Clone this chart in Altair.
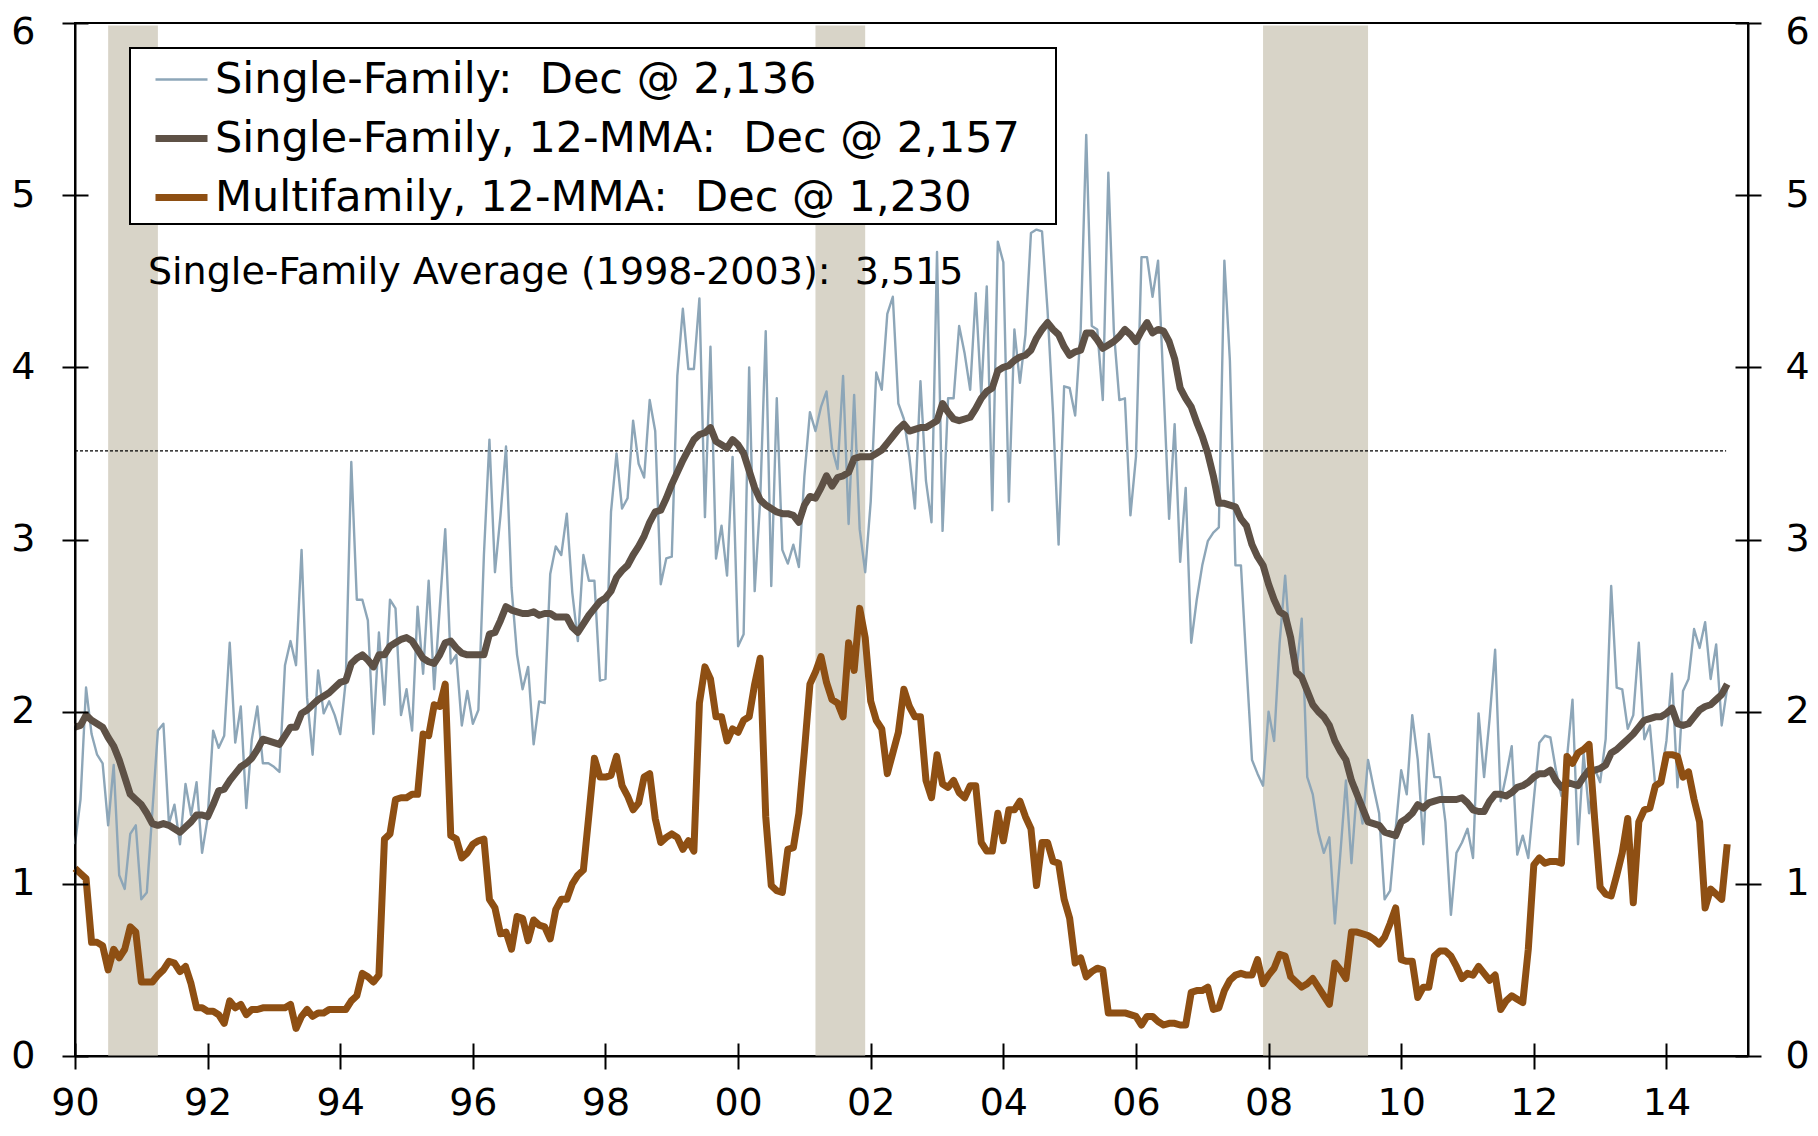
import altair as alt
import pandas as pd

# ---------------- data (thousands of permits) ----------------
MONTHS = pd.date_range("1990-01-01", "2014-12-01", freq="MS")

SF_MONTHLY = [
    1.23, 1.49, 2.14, 1.87, 1.75, 1.70, 1.34, 1.69, 1.05, 0.97, 1.29, 1.34,  # 1990
    0.91, 0.95, 1.42, 1.89, 1.93, 1.35, 1.46, 1.23, 1.58, 1.40, 1.59, 1.18,  # 1991
    1.38, 1.89, 1.79, 1.86, 2.40, 1.82, 2.03, 1.44, 1.84, 2.03, 1.70, 1.70,  # 1992
    1.68, 1.65, 2.27, 2.41, 2.27, 2.94, 2.08, 1.75, 2.24, 1.99, 2.06, 1.98,  # 1993
    1.87, 2.18, 3.45, 2.65, 2.65, 2.53, 1.87, 2.46, 2.04, 2.65, 2.60, 1.98,  # 1994
    2.13, 1.89, 2.61, 2.22, 2.76, 2.13, 2.60, 3.06, 2.28, 2.33, 1.92, 2.12,  # 1995
    1.93, 2.01, 2.91, 3.58, 2.81, 3.14, 3.54, 2.72, 2.33, 2.13, 2.26, 1.81,  # 1996
    2.06, 2.05, 2.80, 2.96, 2.91, 3.15, 2.69, 2.41, 2.91, 2.76, 2.76, 2.18,  # 1997
    2.19, 3.16, 3.50, 3.18, 3.24, 3.69, 3.44, 3.36, 3.81, 3.63, 2.74, 2.89,  # 1998
    2.90, 3.95, 4.34, 3.99, 3.99, 4.40, 3.13, 4.12, 2.89, 3.08, 2.79, 3.48,  # 1999
    2.38, 2.45, 4.00, 2.70, 3.23, 4.21, 2.73, 3.82, 2.94, 2.86, 2.97, 2.84,  # 2000
    3.37, 3.74, 3.63, 3.77, 3.86, 3.53, 3.41, 3.95, 3.09, 3.84, 3.06, 2.81,  # 2001
    3.22, 3.97, 3.87, 4.31, 4.41, 3.79, 3.70, 3.48, 3.18, 3.92, 3.34, 3.10,  # 2002
    4.67, 3.05, 3.82, 3.82, 4.24, 4.08, 3.87, 4.43, 3.84, 4.47, 3.17, 4.73,  # 2003
    4.61, 3.22, 4.22, 3.91, 4.19, 4.78, 4.80, 4.79, 4.33, 3.73, 2.97, 3.89,  # 2004
    3.88, 3.72, 4.22, 5.35, 4.24, 4.22, 3.81, 5.13, 4.21, 3.81, 3.82, 3.14,  # 2005
    3.48, 4.64, 4.64, 4.41, 4.62, 3.88, 3.12, 3.67, 2.87, 3.30, 2.40, 2.65,  # 2006
    2.85, 2.99, 3.04, 3.07, 4.62, 4.04, 2.85, 2.85, 2.27, 1.72, 1.64, 1.57,  # 2007
    2.00, 1.83, 2.40, 2.79, 2.34, 2.22, 2.54, 1.62, 1.52, 1.30, 1.18, 1.27,  # 2008
    0.77, 1.18, 1.60, 1.12, 1.56, 1.35, 1.72, 1.56, 1.41, 0.91, 0.96, 1.32,  # 2009
    1.66, 1.52, 1.98, 1.72, 1.23, 1.87, 1.62, 1.62, 1.36, 0.82, 1.18, 1.24,  # 2010
    1.32, 1.15, 1.99, 1.62, 1.96, 2.36, 1.48, 1.63, 1.80, 1.17, 1.28, 1.15,  # 2011
    1.49, 1.82, 1.86, 1.85, 1.66, 1.51, 1.73, 2.07, 1.23, 1.76, 1.41, 1.67,  # 2012
    1.59, 1.84, 2.73, 2.14, 2.13, 1.90, 1.98, 2.40, 1.84, 1.92, 1.56, 1.62,  # 2013
    1.83, 2.22, 1.56, 2.12, 2.19, 2.48, 2.37, 2.52, 2.19, 2.39, 1.92, 2.14,  # 2014
]

SF_12MMA = [
    1.91, 1.92, 1.98, 1.95, 1.93, 1.91, 1.85, 1.80, 1.72, 1.62, 1.52, 1.49,
    1.46, 1.41, 1.35, 1.34, 1.35, 1.34, 1.32, 1.30, 1.33, 1.36, 1.40, 1.40,
    1.39, 1.46, 1.54, 1.55, 1.60, 1.64, 1.68, 1.70, 1.73, 1.78, 1.84, 1.83,
    1.82, 1.81, 1.86, 1.91, 1.91, 1.99, 2.01, 2.04, 2.07, 2.09, 2.11, 2.14,
    2.17, 2.18, 2.28, 2.31, 2.33, 2.30, 2.26, 2.33, 2.33, 2.38, 2.40, 2.42,
    2.43, 2.41, 2.36, 2.31, 2.29, 2.28, 2.33, 2.40, 2.41, 2.37, 2.34, 2.33,
    2.33, 2.33, 2.33, 2.45, 2.46, 2.53, 2.61, 2.59, 2.58, 2.57, 2.57, 2.58,
    2.56, 2.57, 2.57, 2.55, 2.55, 2.55, 2.49, 2.46, 2.51, 2.56, 2.60, 2.64,
    2.66, 2.70, 2.78, 2.82, 2.85, 2.91, 2.96, 3.02, 3.10, 3.16, 3.17, 3.24,
    3.32, 3.39, 3.46, 3.52, 3.58, 3.61, 3.62, 3.65, 3.57, 3.55, 3.53, 3.58,
    3.55, 3.50, 3.40, 3.30, 3.23, 3.20, 3.18, 3.16, 3.15, 3.15, 3.14, 3.10,
    3.20, 3.25, 3.24, 3.30, 3.37, 3.31, 3.36, 3.37, 3.39, 3.47, 3.48, 3.48,
    3.48, 3.50, 3.52, 3.56, 3.60, 3.64, 3.67, 3.63, 3.64, 3.65, 3.65, 3.67,
    3.69, 3.79, 3.74, 3.70, 3.69, 3.70, 3.71, 3.76, 3.82, 3.86, 3.88, 3.98,
    4.00, 4.01, 4.04, 4.06, 4.07, 4.10, 4.17, 4.22, 4.26, 4.22, 4.19, 4.12,
    4.07, 4.09, 4.10, 4.20, 4.20, 4.16, 4.11, 4.13, 4.15, 4.18, 4.22, 4.19,
    4.15, 4.21, 4.26, 4.20, 4.22, 4.21, 4.15, 4.05, 3.88, 3.82, 3.77, 3.68,
    3.60, 3.50, 3.37, 3.21, 3.21, 3.20, 3.19, 3.12, 3.08, 2.97, 2.90, 2.85,
    2.74, 2.65, 2.58, 2.56, 2.43, 2.23, 2.20, 2.12, 2.04, 2.00, 1.97, 1.92,
    1.83, 1.77, 1.72, 1.60, 1.52, 1.44, 1.36, 1.35, 1.34, 1.30, 1.29, 1.28,
    1.36, 1.38, 1.41, 1.46, 1.44, 1.47, 1.48, 1.49, 1.49, 1.49, 1.49, 1.50,
    1.47, 1.43, 1.42, 1.42, 1.48, 1.52, 1.52, 1.51, 1.53, 1.56, 1.57, 1.59,
    1.62, 1.64, 1.64, 1.66, 1.60, 1.56, 1.59, 1.58, 1.57, 1.62, 1.66, 1.66,
    1.67, 1.69, 1.76, 1.78, 1.81, 1.84, 1.87, 1.91, 1.95, 1.96, 1.97, 1.97,
    1.99, 2.02, 1.93, 1.92, 1.93, 1.97, 2.01, 2.03, 2.04, 2.07, 2.10, 2.16,
]

MF_12MMA = [
    1.09, 1.06, 1.03, 0.66, 0.66, 0.64, 0.50, 0.62, 0.57, 0.62, 0.75, 0.72,
    0.43, 0.43, 0.43, 0.47, 0.50, 0.55, 0.54, 0.49, 0.52, 0.42, 0.28, 0.28,
    0.26, 0.26, 0.24, 0.19, 0.32, 0.28, 0.30, 0.24, 0.27, 0.27, 0.28, 0.28,
    0.28, 0.28, 0.28, 0.30, 0.16, 0.23, 0.27, 0.23, 0.25, 0.25, 0.27, 0.27,
    0.27, 0.27, 0.32, 0.35, 0.48, 0.46, 0.43, 0.47, 1.26, 1.29, 1.49, 1.50,
    1.50, 1.52, 1.52, 1.87, 1.86, 2.04, 2.03, 2.16, 1.28, 1.26, 1.15, 1.18,
    1.23, 1.25, 1.26, 0.91, 0.86, 0.71, 0.72, 0.62, 0.81, 0.80, 0.67, 0.79,
    0.76, 0.75, 0.68, 0.85, 0.91, 0.91, 1.00, 1.05, 1.08, 1.40, 1.73, 1.62,
    1.62, 1.63, 1.74, 1.57, 1.51, 1.43, 1.47, 1.62, 1.64, 1.38, 1.24, 1.27,
    1.29, 1.27, 1.20, 1.25, 1.19, 2.05, 2.26, 2.19, 1.97, 1.97, 1.83, 1.90,
    1.88, 1.95, 1.97, 2.16, 2.31, 1.39, 0.99, 0.96, 0.95, 1.20, 1.21, 1.41,
    1.77, 2.16, 2.23, 2.32, 2.17, 2.07, 2.05, 1.97, 2.40, 2.24, 2.60, 2.43,
    2.06, 1.95, 1.90, 1.64, 1.76, 1.88, 2.13, 2.03, 1.97, 1.97, 1.60, 1.50,
    1.75, 1.58, 1.56, 1.60, 1.53, 1.50, 1.57, 1.57, 1.24, 1.19, 1.19, 1.41,
    1.25, 1.43, 1.43, 1.48, 1.39, 1.32, 0.99, 1.24, 1.24, 1.13, 1.12, 0.91,
    0.80, 0.54, 0.57, 0.46, 0.49, 0.51, 0.50, 0.25, 0.25, 0.25, 0.25, 0.24,
    0.23, 0.18, 0.23, 0.23, 0.20, 0.18, 0.19, 0.19, 0.18, 0.18, 0.37, 0.38,
    0.38, 0.40, 0.27, 0.28, 0.38, 0.44, 0.47, 0.48, 0.47, 0.47, 0.56, 0.42,
    0.47, 0.51, 0.59, 0.58, 0.46, 0.43, 0.40, 0.42, 0.45, 0.40, 0.35, 0.30,
    0.54, 0.50, 0.45, 0.72, 0.72, 0.71, 0.70, 0.68, 0.65, 0.69, 0.77, 0.86,
    0.56, 0.55, 0.55, 0.34, 0.40, 0.40, 0.58, 0.61, 0.61, 0.58, 0.52, 0.45,
    0.48, 0.47, 0.52, 0.48, 0.44, 0.47, 0.27, 0.32, 0.35, 0.33, 0.31, 0.62,
    1.11, 1.15, 1.12, 1.13, 1.13, 1.12, 1.74, 1.70, 1.76, 1.78, 1.81, 1.38,
    0.98, 0.94, 0.93, 1.05, 1.18, 1.38, 0.89, 1.36, 1.43, 1.44, 1.57, 1.59,
    1.75, 1.75, 1.74, 1.62, 1.65, 1.49, 1.36, 0.86, 0.97, 0.94, 0.91, 1.23,
]

NBSP = "\u00a0"
BLANK = "\u2800"  # blank (non-whitespace) filler so the legend frame keeps its right margin
SERIES = [
    "Single-Family:" + NBSP + " Dec @ 2,136",
    "Single-Family, 12-MMA:" + NBSP + " Dec @ 2,157" + BLANK,
    "Multifamily, 12-MMA:" + NBSP + " Dec @ 1,230",
]
COLORS = ["#8DA6B8", "#5E5146", "#8E4F13"]
WIDTHS = [2.4, 7.0, 7.0]

# recessions (decimal years)
REC_START = [1990.5, 2001 + 2 / 12, 2007 + 11 / 12]
REC_END = [1991.25, 2001 + 11 / 12, 2009.5]

AVG_LABEL = "Single-Family Average (1998-2003):" + NBSP + " 3,515"
AVG_VALUE = 3.515

YEAR_TICKS = list(range(1990, 2015, 2))
Y_TICKS = [0, 1, 2, 3, 4, 5, 6]
X_DOMAIN = [1990, 2015.23]
Y_DOMAIN = [0, 6]

# ---------------- build tables ----------------
assert len(SF_MONTHLY) == len(SF_12MMA) == len(MF_12MMA) == len(MONTHS)
t = [m.year + (m.month - 1) / 12 for m in MONTHS]
rows = []
for name, vals in zip(SERIES, [SF_MONTHLY, SF_12MMA, MF_12MMA]):
    for ti, v in zip(t, vals):
        rows.append({"t": ti, "v": v, "series": name})
df = pd.DataFrame(rows)

rec_df = pd.DataFrame({"start": REC_START, "end": REC_END,
                       "lo": [Y_DOMAIN[0]] * 3, "hi": [5.985] * 3})
avg_df = pd.DataFrame({"t0": [1990.0], "t1": [2014.9], "v": [AVG_VALUE]})
ann_df = pd.DataFrame({"t": [1991.1], "v": [4.55], "label": [AVG_LABEL]})

FONT = "DejaVu Sans"
xs = alt.Scale(domain=X_DOMAIN, nice=False, zero=False)
ys = alt.Scale(domain=Y_DOMAIN, nice=False, zero=False)
color_scale = alt.Scale(domain=SERIES, range=COLORS)
width_scale = alt.Scale(type="ordinal", domain=SERIES, range=WIDTHS)

TICK = dict(tickSize=13, tickWidth=2, tickColor="black", grid=False, title=None, zindex=1)
LAB = dict(labelFont=FONT, labelFontSize=38, labelColor="black")
TOP_LABEL_SHIFT = {"condition": {"test": "datum.value == 6", "value": 9}, "value": 0}

x_outer = alt.Axis(orient="bottom", values=YEAR_TICKS, labelExpr="substring(toString(datum.value), 2, 4)",
                   labelFlush=False, labelOverlap=False, labelPadding=15,
                   domain=True, domainColor="black", domainWidth=2, **TICK, **LAB)
x_inner = alt.Axis(orient="bottom", values=YEAR_TICKS, offset=-13, labels=False, domain=False, **TICK)
y_left_outer = alt.Axis(orient="left", values=Y_TICKS, labelPadding=27, labelOffset=TOP_LABEL_SHIFT,
                        domain=True, domainColor="black", domainWidth=2, **TICK, **LAB)
y_left_inner = alt.Axis(orient="left", values=Y_TICKS, offset=-13, labels=False, domain=False, **TICK)
y_right_outer = alt.Axis(orient="right", values=Y_TICKS, labelPadding=24, labelOffset=TOP_LABEL_SHIFT,
                         domain=True, domainColor="black", domainWidth=2, **TICK, **LAB)
y_right_inner = alt.Axis(orient="right", values=Y_TICKS, offset=-13, labels=False, domain=False, **TICK)

legend = alt.Legend(
    title=None, orient="none", legendX=55, legendY=25,
    symbolType="stroke", symbolSize=2704, symbolOffset=18,
    labelFont=FONT, labelFontSize=43, labelColor="black", labelLimit=3000, labelOffset=4,
    strokeColor="black", fillColor="white", padding=4, rowPadding=7,
)

rec = alt.Chart(rec_df).mark_rect(color="#D8D4C8").encode(
    x=alt.X("start:Q", scale=xs, axis=x_outer),
    x2="end:Q",
    y=alt.Y("lo:Q", scale=ys, axis=y_left_outer),
    y2="hi:Q",
)

avg = alt.Chart(avg_df).mark_rule(color="black", strokeWidth=1.2, strokeDash=[3, 2]).encode(
    x=alt.X("t0:Q", scale=xs, axis=x_inner),
    x2="t1:Q",
    y=alt.Y("v:Q", scale=ys, axis=y_left_inner),
)

ann = alt.Chart(ann_df).mark_text(align="left", baseline="middle", font=FONT, fontSize=38,
                                  color="black").encode(
    x=alt.X("t:Q", scale=xs, axis=None),
    y=alt.Y("v:Q", scale=ys, axis=None),
    text="label:N",
)


def line_layer(name):
    return alt.Chart(df).transform_filter(alt.datum.series == name).mark_line(
        strokeJoin="round", strokeCap="butt").encode(
        x=alt.X("t:Q", scale=xs, axis=None),
        y=alt.Y("v:Q", scale=ys, axis=None),
        color=alt.Color("series:N", scale=color_scale, legend=legend),
        strokeWidth=alt.StrokeWidth("series:N", scale=width_scale, legend=legend),
    )


right_out = alt.Chart(avg_df).mark_point(opacity=0).encode(
    x=alt.X("t0:Q", scale=xs, axis=None),
    y=alt.Y("v:Q", scale=ys, axis=y_right_outer),
)
right_in = alt.Chart(avg_df).mark_point(opacity=0).encode(
    x=alt.X("t0:Q", scale=xs, axis=None),
    y=alt.Y("v:Q", scale=ys, axis=y_right_inner),
)

chart = alt.layer(
    rec, avg, ann, line_layer(SERIES[0]), line_layer(SERIES[1]), line_layer(SERIES[2]),
    right_out, right_in,
).resolve_axis(x="independent", y="independent").properties(
    width=1673, height=1033,
    padding={"left": 67, "top": 15, "right": 62, "bottom": 68},
    autosize=alt.AutoSizeParams(type="none"),
).configure_view(stroke="black", strokeWidth=2)

try:
    chart2 = chart.configure_legend(strokeWidth=2)
    chart2.to_dict()
    chart = chart2
except Exception:
    pass

chart.save("out.html", embed_options={"renderer": "svg", "actions": False})
